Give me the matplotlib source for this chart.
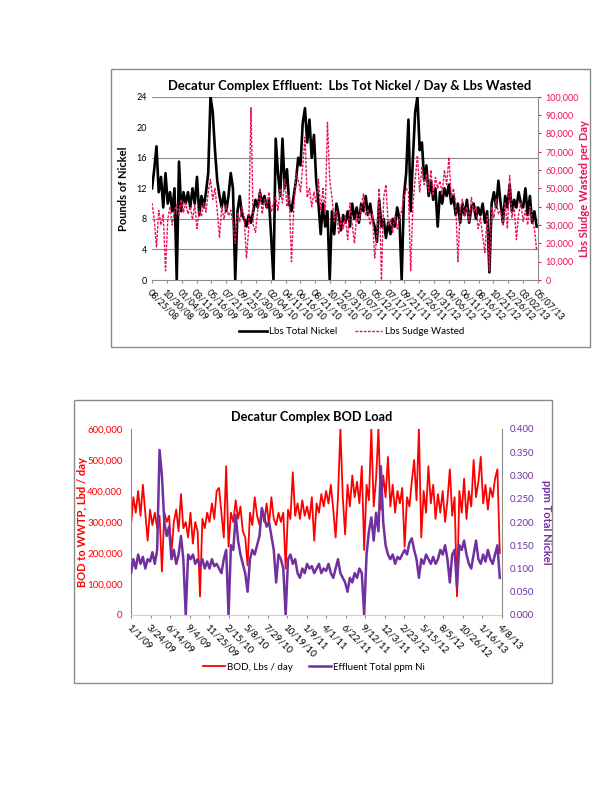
import numpy as np
import pandas as pd
import matplotlib
matplotlib.use("Agg")
import matplotlib.pyplot as plt
from matplotlib.patches import Rectangle

plt.rcParams['font.family'] = ['Lato', 'DejaVu Sans']

# ---------------- chart 1 data (every 10 days from 08/25/08) ----------------
nickel_start = "2008-08-25"
nickel_lbs = [
    12, 14.5, 17.5, 11.5, 13.5, 9.5, 14, 10, 11.5, 9,
    12, 0, 15.5, 9, 11.5, 10, 11.5, 9.5, 12, 10,
    13.5, 8.5, 11, 9.5, 11.5, 14, 24, 22, 17, 13,
    11, 9.5, 11.5, 9, 11, 14, 12, 0, 9, 11,
    8.5, 8, 7, 8.5, 7.5, 9, 10.5, 9.5, 11.5, 10,
    11, 9.5, 10.5, 5.5, 0, 18.5, 14, 11, 18.5, 12,
    14.5, 10, 9, 11, 13, 16, 15, 20.5, 22.5, 18,
    21, 16, 19, 13, 10, 6, 10, 7, 9, 0,
    9, 6, 10, 8.5, 6.5, 8.5, 7.5, 9, 7, 10,
    8, 9.5, 7.5, 10, 9, 11, 8.5, 10, 8, 7,
    5, 10.5, 7, 8, 5.5, 7.5, 6, 8, 7, 9.5,
    8, 0, 11, 14, 21, 9, 16, 22, 24, 17,
    18, 13, 15, 11, 13, 10.5, 12, 7, 11.5, 10,
    12, 11, 12.5, 10, 11, 8.5, 10, 7.5, 10, 8.5,
    10.5, 7.5, 9.5, 10, 8, 9.5, 8.5, 10, 7.5, 9,
    1, 10, 11.5, 9.5, 13, 10, 7.5, 11, 9.5, 12.5,
    9, 10.5, 9.5, 11.5, 10, 9.5, 12, 8.5, 11, 7.5,
    9, 7,
]
sludge_wasted = [  # lbs / day
    42000, 33000, 18000, 38000, 30000, 36000, 5000, 33000, 40000, 30000,
    38000, 41000, 35000, 44000, 37000, 42000, 36000, 40000, 33000, 41000,
    28000, 38000, 35000, 42000, 37000, 48000, 55000, 44000, 50000, 38000,
    23000, 40000, 33000, 41000, 35000, 38000, 31000, 20000, 37000, 32000,
    40000, 34000, 12000, 28000, 94000, 30000, 26000, 38000, 50000, 36000,
    44000, 40000, 48000, 37000, 42000, 45000, 38000, 50000, 42000, 55000,
    40000, 46000, 10000, 38000, 58000, 55000, 48000, 62000, 78000, 45000,
    50000, 40000, 48000, 42000, 55000, 38000, 50000, 36000, 86000, 55000,
    45000, 32000, 38000, 25000, 33000, 28000, 35000, 22000, 42000, 30000,
    20000, 36000, 32000, 40000, 47000, 35000, 38000, 30000, 36000, 12000,
    25000, 50000, 0, 45000, 52000, 30000, 33000, 26000, 35000, 28000,
    33000, 38000, 45000, 50000, 48000, 5000, 42000, 55000, 68000, 48000,
    62000, 52000, 58000, 48000, 60000, 46000, 56000, 50000, 54000, 47000,
    60000, 52000, 67000, 45000, 50000, 42000, 10000, 38000, 44000, 35000,
    40000, 32000, 45000, 37000, 40000, 28000, 34000, 24000, 15000, 35000,
    5000, 40000, 34000, 44000, 36000, 38000, 30000, 42000, 28000, 57000,
    34000, 40000, 22000, 36000, 42000, 32000, 38000, 30000, 40000, 33000,
    28000, 16000,
]
nickel_ticks = pd.date_range("2008-08-25", "2013-05-07", freq="66D")

# ---------------- chart 2 data (every 10 days from 1/1/09) ----------------
bod_start = "2009-01-01"
bod_lbs = [  # thousands of lbs / day
    290, 380, 330, 400, 320, 420, 330, 240, 340, 290,
    330, 280, 320, 140, 330, 300, 320, 200, 300, 340,
    270, 390, 280, 300, 250, 330, 230, 300, 270, 60,
    310, 280, 330, 300, 360, 310, 400, 410, 330, 250,
    480, 220, 330, 300, 370, 310, 350, 270, 250, 160,
    330, 290, 380, 320, 290, 340, 300, 360, 290, 380,
    310, 290, 330, 300, 330, 150, 340, 310, 460, 320,
    360, 310, 370, 320, 350, 310, 380, 240, 360, 330,
    390, 350, 400, 360, 420, 340, 250, 380, 600, 380,
    260, 420, 350, 450, 380, 430, 360, 480, 210, 420,
    370, 600, 350, 440, 600, 340, 450, 380, 510, 350,
    420, 330, 400, 360, 410, 220, 380, 350, 430, 500,
    370, 600, 250, 400, 330, 480, 360, 420, 310, 390,
    330, 400, 300, 370, 470, 320, 380, 60, 400, 330,
    440, 310, 400, 350, 500, 380, 430, 510, 360, 420,
    340, 410, 380, 440, 470, 200,
]
ppm_nickel = [
    0.09, 0.12, 0.10, 0.13, 0.11, 0.125, 0.10, 0.12, 0.115, 0.135,
    0.11, 0.14, 0.355, 0.30, 0.20, 0.17, 0.19, 0.12, 0.14, 0.11,
    0.13, 0.17, 0.12, 0.0, 0.13, 0.12, 0.13, 0.11, 0.12, 0.105,
    0.12, 0.10, 0.115, 0.10, 0.12, 0.105, 0.11, 0.10, 0.09, 0.12,
    0.14, 0.0, 0.15, 0.14, 0.215, 0.16, 0.13, 0.11, 0.09, 0.05,
    0.12, 0.14, 0.13, 0.15, 0.17, 0.23, 0.21, 0.19, 0.20, 0.17,
    0.14, 0.07, 0.13, 0.12, 0.10, 0.0, 0.12, 0.13, 0.11, 0.12,
    0.09, 0.08, 0.10, 0.09, 0.11, 0.10, 0.105, 0.09, 0.10, 0.11,
    0.09, 0.10, 0.095, 0.11, 0.09, 0.08, 0.10, 0.12, 0.09, 0.08,
    0.07, 0.05, 0.08, 0.07, 0.09, 0.08, 0.10, 0.09, 0.0, 0.13,
    0.18, 0.21, 0.16, 0.22, 0.18, 0.32, 0.20, 0.15, 0.13, 0.12,
    0.13, 0.11, 0.125, 0.12, 0.13, 0.14, 0.13, 0.155, 0.165, 0.14,
    0.12, 0.08, 0.12, 0.11, 0.13, 0.12, 0.11, 0.125, 0.11, 0.12,
    0.14, 0.13, 0.15, 0.12, 0.07, 0.13, 0.14, 0.06, 0.15, 0.14,
    0.16, 0.13, 0.11, 0.10, 0.13, 0.16, 0.12, 0.11, 0.13, 0.115,
    0.14, 0.12, 0.11, 0.13, 0.15, 0.08,
]
bod_ticks = pd.date_range("2009-01-01", "2013-04-08", freq="82D")

BLACK = "#000000"
PINK = "#E8125C"
RED = "#FF0000"
PURPLE = "#7030A0"
GRID = "#8C8C8C"

fig = plt.figure(figsize=(6.15, 8.0), dpi=100)

# chart outlines
fig.patches.append(Rectangle((111 / 615, 1 - 347 / 800), 479 / 615, 278 / 800,
                             transform=fig.transFigure, fill=False, ec="#8A8A8A", lw=1))
fig.patches.append(Rectangle((74 / 615, 1 - 683 / 800), 478 / 615, 283 / 800,
                             transform=fig.transFigure, fill=False, ec="#8A8A8A", lw=1))

# ======================= chart 1 =======================
d1 = pd.date_range(nickel_start, periods=len(nickel_lbs), freq="10D")
ax1 = fig.add_axes([152 / 615, 1 - 280 / 800, 386 / 615, 183.3 / 800])
ax1.plot(d1, nickel_lbs, color=BLACK, lw=1.9, label="Lbs Total Nickel")
ax1.set_ylim(0, 24)
ax1.set_yticks(range(0, 25, 4))
ax1.set_xlim(nickel_ticks[0], nickel_ticks[-1])
ax1.set_xticks(nickel_ticks)
ax1.set_xticklabels([d.strftime("%m/%d/%y") for d in nickel_ticks],
                    rotation=-45, ha="left", rotation_mode="anchor")
for g in [4, 8, 16, 24]:
    ax1.axhline(g, color=GRID, lw=0.8, zorder=0)
ax1.set_ylabel("Pounds of Nickel", fontsize=8, fontweight="bold")
ax1.yaxis.set_label_coords(-23 / 386, 0.5)
ax1.tick_params(axis="both", labelsize=6.5, length=2, color=GRID)
ax1.tick_params(axis="y", length=0)
for s in ["top", "right", "left"]:
    ax1.spines[s].set_visible(False)
ax1.spines["bottom"].set_color(GRID)

ax1r = ax1.twinx()
ax1r.plot(d1, sludge_wasted, color=PINK, lw=1.0, ls=(0, (2, 1)), label="Lbs Sudge Wasted")
ax1r.set_ylim(0, 100000)
ax1r.set_yticks(range(0, 100001, 10000))
ax1r.yaxis.set_major_formatter(matplotlib.ticker.FuncFormatter(lambda v, p: f"{int(v):,}"))
ax1r.tick_params(axis="y", labelsize=6.5, colors=PINK, length=2)
ax1r.set_ylabel("Lbs Sludge Wasted per Day", fontsize=8, fontweight="bold", color=PINK, rotation=90)
ax1r.yaxis.set_label_coords(427 / 386, 0.5)
for s in ["top", "left", "bottom"]:
    ax1r.spines[s].set_visible(False)
ax1r.spines["right"].set_color(GRID)

fig.text(350 / 615, 1 - 86 / 800, "Decatur Complex Effluent:  Lbs Tot Nickel / Day & Lbs Wasted",
         ha="center", va="center", fontsize=9.4, fontweight="bold")
h1 = ax1.get_lines()[:1] + ax1r.get_lines()
fig.legend(h1, [h.get_label() for h in h1], loc="center", bbox_to_anchor=(352 / 615, 1 - 332 / 800),
           ncol=2, frameon=False, fontsize=7, handlelength=2.8, handletextpad=0.3, columnspacing=1.8)

# ======================= chart 2 =======================
d2 = pd.date_range(bod_start, periods=len(bod_lbs), freq="10D")
ax2 = fig.add_axes([131 / 615, 1 - 615 / 800, 370.7 / 615, 186 / 800])
ax2.plot(d2, np.array(bod_lbs) * 1000, color=RED, lw=1.3, label="BOD, Lbs / day")
ax2.set_ylim(0, 600000)
ax2.set_yticks(range(0, 600001, 100000))
ax2.yaxis.set_major_formatter(matplotlib.ticker.FuncFormatter(lambda v, p: f"{int(v):,}"))
ax2.set_xlim(bod_ticks[0], bod_ticks[-1])
ax2.set_xticks(bod_ticks)
ax2.set_xticklabels([f"{d.month}/{d.day}/{d.strftime('%y')}" for d in bod_ticks],
                    rotation=-45, ha="left", rotation_mode="anchor")
ax2.tick_params(axis="x", labelsize=7, length=2, color=GRID)
ax2.tick_params(axis="y", labelsize=7, colors=RED, length=0, pad=6)
ax2.set_ylabel("BOD to WWTP, Lbd / day", fontsize=8, fontweight="bold", color=RED)
ax2.yaxis.set_label_coords(-43 / 370.7, 0.5)
for s in ["top", "right"]:
    ax2.spines[s].set_visible(False)
ax2.spines["left"].set_color(GRID)
ax2.spines["bottom"].set_color("#D0D0D0")

ax2r = ax2.twinx()
ax2r.plot(d2, ppm_nickel, color=PURPLE, lw=1.8, label="Effluent Total ppm Ni")
ax2r.set_ylim(0, 0.4)
ax2r.set_yticks(np.arange(0, 0.401, 0.05))
ax2r.yaxis.set_major_formatter(matplotlib.ticker.FormatStrFormatter("%.3f"))
ax2r.tick_params(axis="y", labelsize=7, colors=PURPLE, length=0, pad=6)
ax2r.set_ylabel("ppm Total Nickel", fontsize=8, fontweight="bold", color=PURPLE, rotation=-90)
ax2r.yaxis.set_label_coords(421 / 370.7, 0.5)
for s in ["top", "left", "bottom"]:
    ax2r.spines[s].set_visible(False)
ax2r.spines["right"].set_color(GRID)

fig.text(312 / 615, 1 - 417 / 800, "Decatur Complex BOD Load",
         ha="center", va="center", fontsize=9.2, fontweight="bold")
h2 = ax2.get_lines() + ax2r.get_lines()
fig.legend(h2, [h.get_label() for h in h2], loc="center", bbox_to_anchor=(314 / 615, 1 - 667 / 800),
           ncol=2, frameon=False, fontsize=7, handlelength=2.3, handletextpad=0.2, columnspacing=1.6)

fig.savefig("out.png", dpi=100)
